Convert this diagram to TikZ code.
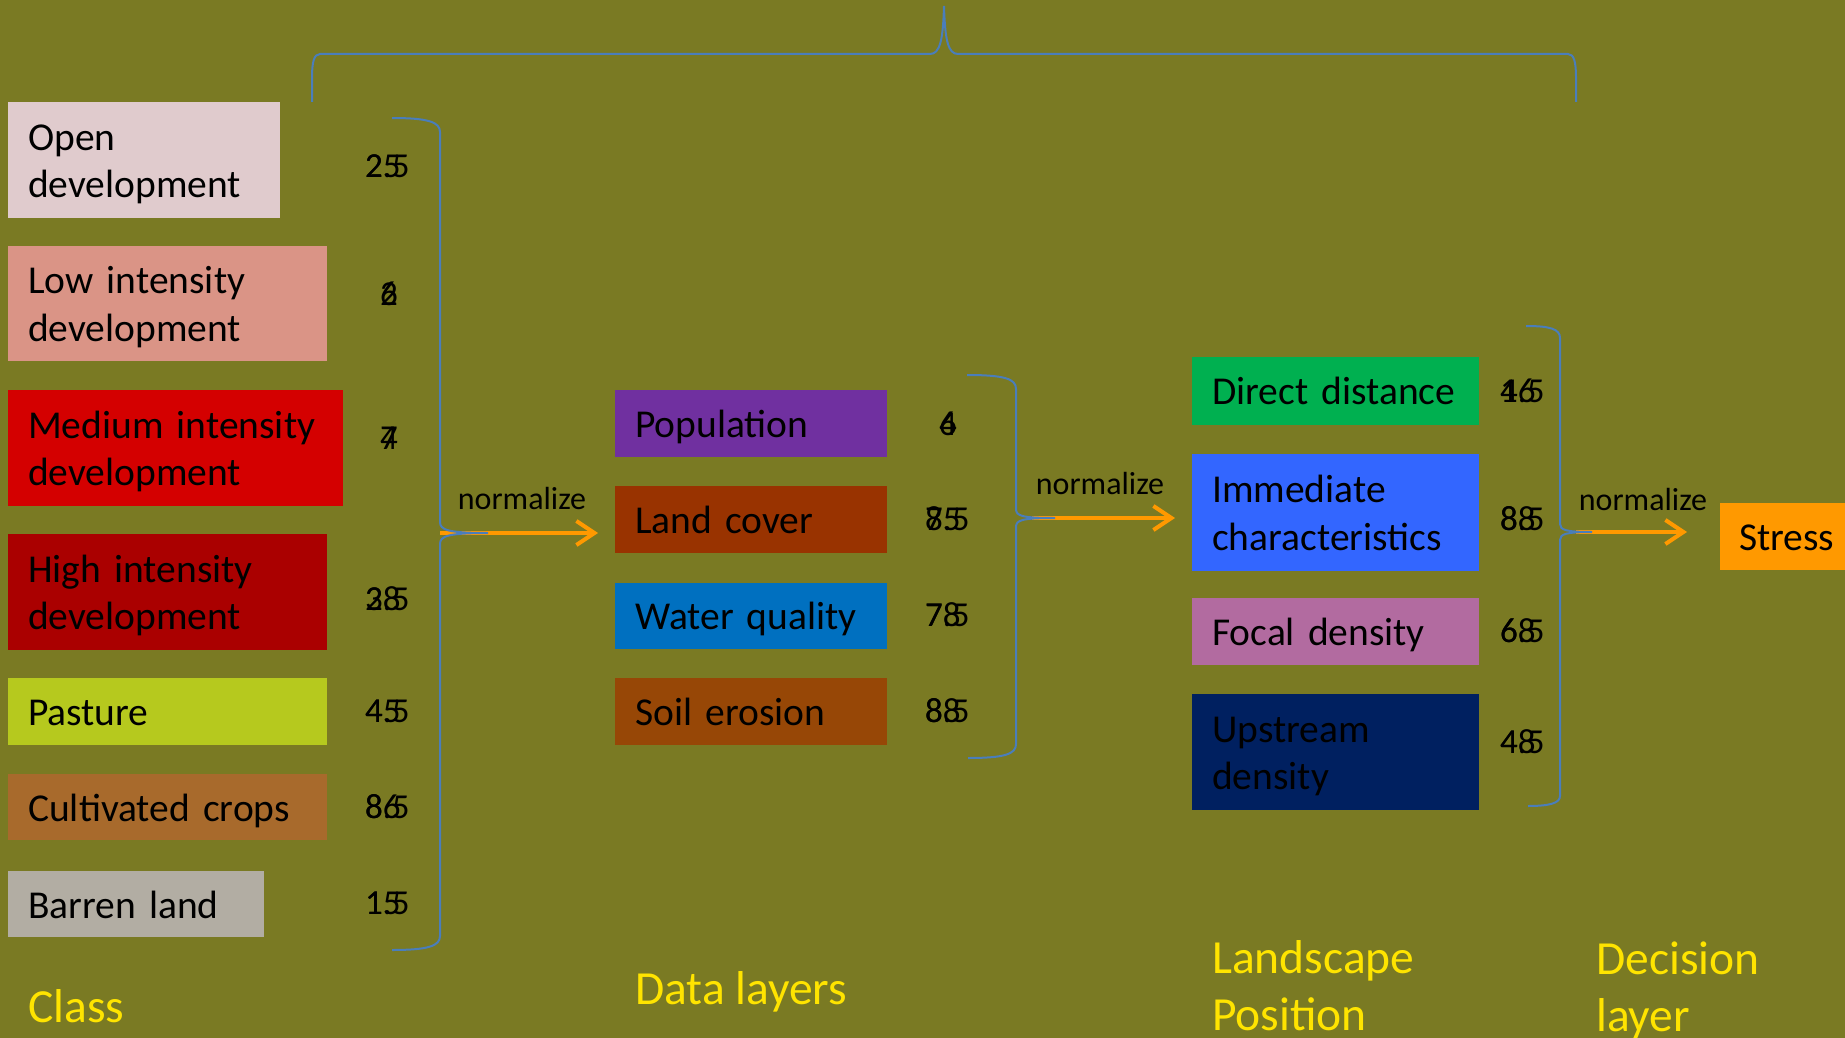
\documentclass[tikz,border=0pt]{standalone}
\usepackage{fontspec}
\setmainfont{Carlito}
\usetikzlibrary{arrows.meta}
\definecolor{bg}{RGB}{122,122,35}
\definecolor{braceblue}{RGB}{74,126,187}
\definecolor{arrowor}{RGB}{255,153,0}
\definecolor{capyellow}{RGB}{255,228,0}
\definecolor{cOpen}{RGB}{224,203,205}
\definecolor{cLow}{RGB}{218,148,134}
\definecolor{cMed}{RGB}{212,0,0}
\definecolor{cHigh}{RGB}{170,0,0}
\definecolor{cPast}{RGB}{182,201,30}
\definecolor{cCult}{RGB}{168,106,44}
\definecolor{cBarr}{RGB}{178,173,163}
\definecolor{cPop}{RGB}{112,48,160}
\definecolor{cLand}{RGB}{153,51,0}
\definecolor{cWater}{RGB}{0,112,192}
\definecolor{cSoil}{RGB}{151,71,6}
\definecolor{cDirect}{RGB}{0,176,80}
\definecolor{cImm}{RGB}{51,102,255}
\definecolor{cFocal}{RGB}{178,107,160}
\definecolor{cUp}{RGB}{0,32,96}
\definecolor{cStress}{RGB}{255,153,0}
\newcommand\topstrut{\rule[-10pt]{0pt}{48pt}}
\newcommand\botstrut{\rule[-10pt]{0pt}{38pt}}
\begin{document}
\begin{tikzpicture}[x=1pt,y=-1pt,
  cbox/.style={anchor=north west, inner xsep=20pt, inner ysep=0pt, align=left, text=black,
    font=\fontsize{39.5}{47.5}\selectfont,
    execute at begin node=\topstrut, execute at end node=\botstrut},
  num/.style={anchor=west, inner sep=0pt, text=black, font=\fontsize{35}{40}\selectfont},
  brace/.style={draw=braceblue, line width=2pt},
  flow/.style={draw=arrowor, line width=4pt, -{Straight Barb[length=18pt,width=24pt]}},
  lbl/.style={text=black, inner sep=0pt, font=\fontsize{32}{38}\selectfont},
  captext/.style={anchor=west, inner sep=0pt, text=capyellow, align=left, font=\fontsize{47.5}{57}\selectfont}]
\useasboundingbox (0,0) rectangle (1845,1038);
\fill[bg] (0,0) rectangle (1845,1038);
\clip (0,0) rectangle (1845,1038);

% Class boxes
\node[cbox, fill=cOpen, text width=232pt, minimum height=116pt] (open) at (8,102) {Open\\development};
\node[cbox, fill=cLow, text width=279pt, minimum height=115pt] (low) at (8,246) {Low intensity\\development};
\node[cbox, fill=cMed, text width=295pt, minimum height=116.5pt] (med) at (8,389.5) {Medium intensity\\development};
\node[cbox, fill=cHigh, text width=279pt, minimum height=116pt] (high) at (8,534) {High intensity\\development};
\node[cbox, fill=cPast, text width=279pt, minimum height=67pt] (past) at (8,678) {Pasture};
\node[cbox, fill=cCult, text width=279pt, minimum height=66pt] (cult) at (8,774) {Cultivated crops};
\node[cbox, fill=cBarr, text width=216pt, minimum height=66pt] (barr) at (8,871) {Barren land};

% Data layers
\node[cbox, fill=cPop, text width=232pt, minimum height=67pt] (pop) at (615,389.5) {Population};
\node[cbox, fill=cLand, text width=232pt, minimum height=67pt] (land) at (615,486) {Land cover};
\node[cbox, fill=cWater, text width=232pt, minimum height=66pt] (water) at (615,582.5) {Water quality};
\node[cbox, fill=cSoil, text width=232pt, minimum height=67pt] (soil) at (615,678) {Soil erosion};

% Landscape position
\node[cbox, fill=cDirect, text width=247pt, minimum height=68.5pt] (direct) at (1192,356.5) {Direct distance};
\node[cbox, fill=cImm, text width=247pt, minimum height=117pt] (imm) at (1192,454) {Immediate\\characteristics};
\node[cbox, fill=cFocal, text width=247pt, minimum height=67pt] (focal) at (1192,598) {Focal density};
\node[cbox, fill=cUp, text width=247pt, minimum height=115.5pt] (up) at (1192,694) {Upstream\\density};

% Decision
\node[cbox, fill=cStress, inner xsep=19pt, text width=110pt, minimum height=67pt] (stress) at (1720,502.5) {Stress};

% Weights (overlapping values)
\node[num] (w1a) at (365,166) {25};
\node[num] (w1b) at (365,166) {2.5};
\node[num] (w2a) at (380,294) {2};
\node[num] (w2b) at (380,294) {6};
\node[num] (w3a) at (380,438) {7};
\node[num] (w3b) at (380,438) {4};
\node[num] (w4a) at (365,599) {28};
\node[num] (w4b) at (365,599) {3.5};
\node[num] (w5a) at (365,711) {45};
\node[num] (w5b) at (365,711) {4.5};
\node[num] (w6a) at (365,807) {86};
\node[num] (w6b) at (365,807) {8.5};
\node[num] (w7a) at (365,903) {15};
\node[num] (w7b) at (365,903) {1.5};

\node[num] (d1a) at (939,424) {6};
\node[num] (d1b) at (939,424) {4};
\node[num] (d2a) at (925,519) {75};
\node[num] (d2b) at (925,519) {8.5};
\node[num] (d3a) at (925,615) {78};
\node[num] (d3b) at (925,615) {7.5};
\node[num] (d4a) at (925,711) {88};
\node[num] (d4b) at (925,711) {8.5};

\node[num] (p1a) at (1500,391) {16};
\node[num] (p1b) at (1500,391) {4.5};
\node[num] (p2a) at (1500,519) {88};
\node[num] (p2b) at (1500,519) {8.5};
\node[num] (p3a) at (1500,631) {68};
\node[num] (p3b) at (1500,631) {6.5};
\node[num] (p4a) at (1500,742) {48};
\node[num] (p4b) at (1500,742) {4.5};

% arrows
\coordinate (a1s) at (440,533);
\coordinate (a1e) at (598,533);
\coordinate (a2s) at (1032,518);
\coordinate (a2e) at (1175,518);
\coordinate (a3s) at (1576,532);
\coordinate (a3e) at (1687,532);
\draw[flow] (a1s) -- (a1e);
\draw[flow] (a2s) -- (a2e);
\draw[flow] (a3s) -- (a3e);

\node[lbl] (n1) at (522,499) {normalize};
\node[lbl] (n2) at (1100,484) {normalize};
\node[lbl] (n3) at (1643,500) {normalize};

% braces
\draw[brace] (392,118) .. controls (428,118) and (440,122) .. (440,132) -- (440,522)
  .. controls (440,530) and (448,533) .. (488,533)
  .. controls (448,533) and (440,536) .. (440,544) -- (440,936)
  .. controls (440,946) and (428,950) .. (392,950);
\draw[brace] (967,375) .. controls (1005,375) and (1016,379) .. (1016,389) -- (1016,509)
  .. controls (1016,516) and (1022,518) .. (1055,518)
  .. controls (1022,518) and (1016,520) .. (1016,527) -- (1016,744)
  .. controls (1016,754) and (1005,758) .. (968,758);
\draw[brace] (1526,326) .. controls (1550,326) and (1560,329) .. (1560,338) -- (1560,524)
  .. controls (1560,530) and (1566,532) .. (1592,532)
  .. controls (1566,532) and (1560,534) .. (1560,540) -- (1560,796)
  .. controls (1560,803) and (1550,806) .. (1528,806);
\draw[brace] (312,102) -- (312,78) .. controls (312,62) and (314,54) .. (320,54) -- (930,54)
  .. controls (940,54) and (943,40) .. (944,6)
  .. controls (945,40) and (948,54) .. (958,54) -- (1568,54)
  .. controls (1574,54) and (1576,62) .. (1576,78) -- (1576,102);

% captions
\node[captext] (cClass) at (28,1006) {Class};
\node[captext] (cData) at (635,992) {Data layers};
\node[captext] (cLand) at (1212,986) {Landscape\\Position};
\node[captext] (cDec) at (1596,990) {Decision\\layer};
\end{tikzpicture}
\end{document}
